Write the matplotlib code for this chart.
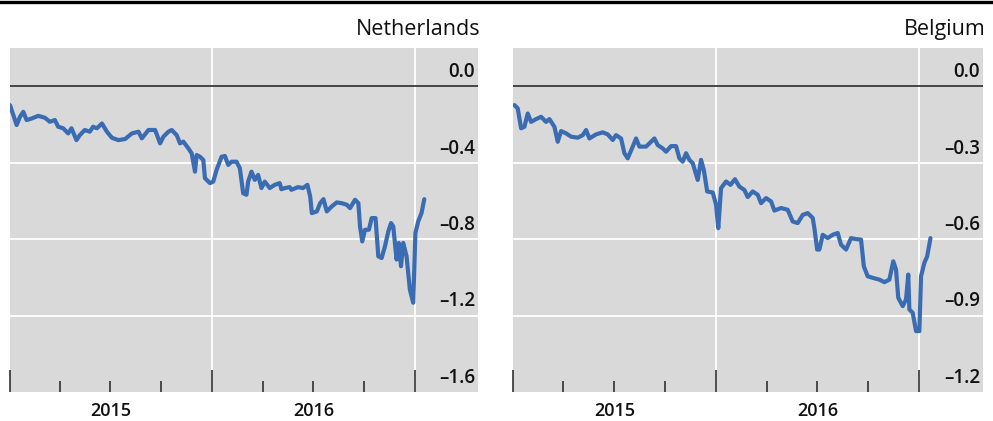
import numpy as np
import matplotlib
matplotlib.use("Agg")
import matplotlib.pyplot as plt
import matplotlib.transforms as mtransforms
from matplotlib.lines import Line2D

plt.rcParams['font.family'] = ['Open Sans', 'DejaVu Sans']

# ---------------- data ----------------
titles = ["Netherlands", "Belgium"]
year_labels = ["2015", "2016"]

nl_dates = ['2015-01-01', '2015-01-07', '2015-01-13', '2015-01-19', '2015-01-25', '2015-01-31',
            '2015-02-09', '2015-02-21', '2015-03-05', '2015-03-14', '2015-03-23', '2015-03-29',
            '2015-04-07', '2015-04-16', '2015-04-22', '2015-05-01', '2015-05-07', '2015-05-16',
            '2015-05-25', '2015-05-31', '2015-06-07', '2015-06-16', '2015-06-25', '2015-07-04',
            '2015-07-16', '2015-07-28', '2015-08-09', '2015-08-21', '2015-08-27', '2015-09-08',
            '2015-09-20', '2015-09-29', '2015-10-05', '2015-10-14', '2015-10-20', '2015-10-29',
            '2015-11-04', '2015-11-10', '2015-11-19', '2015-11-25', '2015-12-01', '2015-12-04',
            '2015-12-10', '2015-12-16', '2015-12-19', '2015-12-28', '2016-01-03', '2016-01-09',
            '2016-01-18', '2016-01-24', '2016-01-30', '2016-02-05', '2016-02-14', '2016-02-20',
            '2016-02-26', '2016-03-03', '2016-03-06', '2016-03-12', '2016-03-18', '2016-03-24',
            '2016-03-30', '2016-04-05', '2016-04-14', '2016-04-23', '2016-05-02', '2016-05-05',
            '2016-05-11', '2016-05-20', '2016-05-23', '2016-06-04', '2016-06-13', '2016-06-21',
            '2016-06-26', '2016-06-29', '2016-07-08', '2016-07-14', '2016-07-20', '2016-07-26',
            '2016-08-04', '2016-08-13', '2016-08-22', '2016-08-31', '2016-09-06', '2016-09-15',
            '2016-09-21', '2016-09-24', '2016-09-28', '2016-10-03', '2016-10-10', '2016-10-15',
            '2016-10-22', '2016-10-27', '2016-11-02', '2016-11-08', '2016-11-14', '2016-11-19',
            '2016-11-23', '2016-11-29', '2016-12-03', '2016-12-07', '2016-12-11', '2016-12-17',
            '2016-12-23', '2016-12-29', '2017-01-02', '2017-01-07', '2017-01-13', '2017-01-18']
nl_values = [-0.099, -0.151, -0.203, -0.160, -0.134, -0.177,
             -0.169, -0.155, -0.165, -0.186, -0.177, -0.212,
             -0.220, -0.247, -0.220, -0.282, -0.256, -0.229,
             -0.238, -0.212, -0.220, -0.195, -0.238, -0.270,
             -0.282, -0.276, -0.247, -0.238, -0.273, -0.229,
             -0.229, -0.299, -0.264, -0.238, -0.229, -0.256,
             -0.299, -0.290, -0.325, -0.351, -0.447, -0.360,
             -0.369, -0.386, -0.481, -0.507, -0.499, -0.438,
             -0.369, -0.365, -0.412, -0.395, -0.395, -0.429,
             -0.560, -0.568, -0.499, -0.447, -0.490, -0.464,
             -0.533, -0.499, -0.533, -0.516, -0.507, -0.539,
             -0.533, -0.528, -0.542, -0.528, -0.533, -0.516,
             -0.577, -0.664, -0.655, -0.612, -0.591, -0.655,
             -0.629, -0.608, -0.612, -0.620, -0.638, -0.594,
             -0.612, -0.734, -0.812, -0.751, -0.751, -0.690,
             -0.690, -0.890, -0.899, -0.838, -0.760, -0.716,
             -0.734, -0.907, -0.820, -0.942, -0.820, -0.890,
             -1.064, -1.133, -0.768, -0.708, -0.664, -0.591]

be_dates = ['2015-01-03', '2015-01-09', '2015-01-15', '2015-01-21', '2015-01-27', '2015-02-02',
            '2015-02-11', '2015-02-20', '2015-03-01', '2015-03-07', '2015-03-16', '2015-03-22',
            '2015-03-28', '2015-04-06', '2015-04-15', '2015-04-27', '2015-05-06', '2015-05-12',
            '2015-05-18', '2015-05-30', '2015-06-11', '2015-06-20', '2015-06-29', '2015-07-05',
            '2015-07-14', '2015-07-20', '2015-07-26', '2015-08-04', '2015-08-10', '2015-08-16',
            '2015-08-28', '2015-09-06', '2015-09-12', '2015-09-18', '2015-09-27', '2015-10-03',
            '2015-10-12', '2015-10-21', '2015-10-27', '2015-11-02', '2015-11-08', '2015-11-14',
            '2015-11-20', '2015-11-29', '2015-12-05', '2015-12-10', '2015-12-16', '2015-12-26',
            '2016-01-01', '2016-01-05', '2016-01-10', '2016-01-19', '2016-01-27', '2016-02-04',
            '2016-02-12', '2016-02-21', '2016-02-27', '2016-03-07', '2016-03-16', '2016-03-22',
            '2016-03-31', '2016-04-09', '2016-04-15', '2016-04-27', '2016-05-09', '2016-05-18',
            '2016-05-27', '2016-06-05', '2016-06-14', '2016-06-23', '2016-06-26', '2016-07-01',
            '2016-07-05', '2016-07-11', '2016-07-20', '2016-07-29', '2016-08-07', '2016-08-13',
            '2016-08-22', '2016-08-31', '2016-09-09', '2016-09-18', '2016-09-23', '2016-09-30',
            '2016-10-09', '2016-10-21', '2016-10-30', '2016-11-08', '2016-11-15', '2016-11-20',
            '2016-11-24', '2016-12-02', '2016-12-08', '2016-12-12', '2016-12-14', '2016-12-20',
            '2016-12-26', '2017-01-01', '2017-01-04', '2017-01-10', '2017-01-15', '2017-01-21']
be_values = [-0.074, -0.087, -0.165, -0.159, -0.107, -0.140,
             -0.129, -0.120, -0.140, -0.129, -0.159, -0.218,
             -0.176, -0.185, -0.198, -0.202, -0.192, -0.172,
             -0.205, -0.189, -0.181, -0.189, -0.211, -0.192,
             -0.205, -0.263, -0.283, -0.237, -0.205, -0.237,
             -0.237, -0.218, -0.205, -0.231, -0.244, -0.257,
             -0.235, -0.235, -0.283, -0.296, -0.263, -0.289,
             -0.302, -0.368, -0.289, -0.329, -0.413, -0.417,
             -0.465, -0.557, -0.400, -0.374, -0.387, -0.365,
             -0.394, -0.407, -0.435, -0.413, -0.426, -0.459,
             -0.439, -0.452, -0.488, -0.478, -0.485, -0.531,
             -0.537, -0.505, -0.498, -0.517, -0.557, -0.641,
             -0.641, -0.583, -0.596, -0.583, -0.576, -0.622,
             -0.641, -0.596, -0.600, -0.602, -0.707, -0.746,
             -0.752, -0.759, -0.769, -0.759, -0.687, -0.720,
             -0.830, -0.863, -0.837, -0.739, -0.876, -0.889,
             -0.961, -0.961, -0.746, -0.693, -0.668, -0.596]

nl_yticks = [0.0, -0.4, -0.8, -1.2, -1.6]
be_yticks = [0.0, -0.3, -0.6, -0.9, -1.2]
nl_ylim = (-1.6, 0.2)
be_ylim = (-1.2, 0.15)

# ---------------- style ----------------
W, H = 993, 421
fig = plt.figure(figsize=(W / 100, H / 100), dpi=100)

line_color = '#3a6cb3'
bg = '#d9d9d9'

axes_px = [(10, 478), (513.3, 982.7)]
top_px, bot_px = 48, 392

xmin = np.datetime64('2015-01-01')
xmax = np.datetime64('2017-04-25')
major = [np.datetime64(d) for d in ['2015-01-01', '2016-01-01', '2017-01-01']]
minor = [np.datetime64(d) for d in ['2015-04-01', '2015-07-01', '2015-10-01',
                                    '2016-04-01', '2016-07-01', '2016-10-01']]
mid_years = [np.datetime64('2015-07-02'), np.datetime64('2016-07-02')]

panels = [(titles[0], nl_dates, nl_values, nl_yticks, nl_ylim),
          (titles[1], be_dates, be_values, be_yticks, be_ylim)]

for (x0, x1), (title, dts, vals, yt, yl) in zip(axes_px, panels):
    ax = fig.add_axes([x0 / W, 1 - bot_px / H, (x1 - x0) / W, (bot_px - top_px) / H])
    ax.set_facecolor(bg)
    for s in ax.spines.values():
        s.set_visible(False)
    d = np.array(dts, dtype='datetime64[D]')
    ax.set_xlim(xmin, xmax)
    ax.set_ylim(*yl)

    # gridlines
    for y in yt:
        if y == 0.0:
            ax.axhline(y, color='#3a3a3a', lw=1.3, zorder=2)
        elif y != yl[0]:
            ax.axhline(y, color='white', lw=1.3, zorder=1)
    for m in major[1:]:
        ax.axvline(m, color='white', lw=1.3, zorder=1)

    ax.plot(d, vals, color=line_color, lw=3.0, solid_joinstyle='round',
            solid_capstyle='round', zorder=3)

    # ticks
    ax.set_xticks(major)
    ax.set_xticks(minor, minor=True)
    ax.tick_params(axis='x', which='major', direction='in', length=16, width=1.1,
                   color='#222222', labelbottom=False)
    ax.tick_params(axis='x', which='minor', direction='in', length=8, width=1.1,
                   color='#222222', labelbottom=False)
    ax.set_yticks([])

    trans = mtransforms.blended_transform_factory(ax.transAxes, ax.transData)
    for y in yt:
        lbl = ('%.1f' % y).replace('-', '\u2013')
        ax.annotate(lbl, xy=(1.0, y), xycoords=trans, xytext=(-2, 3),
                    textcoords='offset points', ha='right', va='bottom',
                    fontsize=13.5, fontweight='semibold', color='#111111', zorder=4)

    transx = mtransforms.blended_transform_factory(ax.transData, ax.transAxes)
    for m, lab in zip(mid_years, year_labels):
        ax.annotate(lab, xy=(m, 0), xycoords=transx, xytext=(0, -17.5),
                    textcoords='offset points', ha='center', va='baseline',
                    fontsize=13, fontweight='semibold', color='#111111')

    ax.annotate(title, xy=(1.0, 1.0), xycoords='axes fraction', xytext=(2, 6),
                textcoords='offset points', ha='right', va='bottom',
                fontsize=15.5, color='#111111')

fig.add_artist(Line2D([0, 1], [1 - 1.5 / H, 1 - 1.5 / H], transform=fig.transFigure,
                      color='black', lw=2.4))

fig.savefig('out.png', dpi=100, facecolor='white')
